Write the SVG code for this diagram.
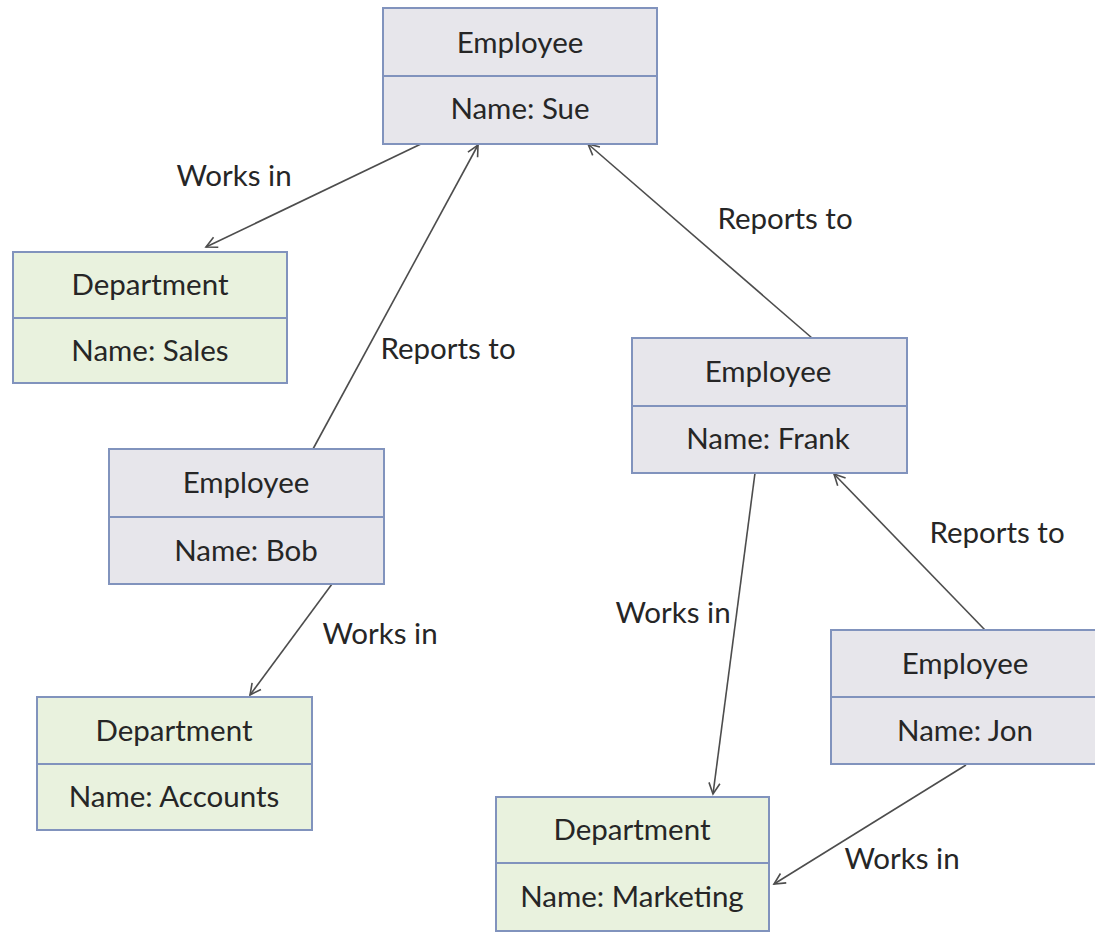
<svg xmlns="http://www.w3.org/2000/svg" width="1095" height="932" viewBox="0 0 1095 932">
<style>
.emp rect{fill:#e7e6eb;stroke:#8193bd;stroke-width:2}
.dep rect{fill:#e9f2de;stroke:#8193bd;stroke-width:2}
.div{stroke:#8193bd;stroke-width:2}
text{font-family:Lato,"Liberation Sans",sans-serif;font-size:29.5px;fill:#262626;text-anchor:middle}
.conn line{stroke:#4d4d4d;stroke-width:1.6;marker-end:url(#arr)}
</style>
<defs>
<marker id="arr" markerUnits="userSpaceOnUse" markerWidth="16" markerHeight="16" refX="12" refY="6" orient="auto" viewBox="0 0 16 12">
<path d="M1,0.5 L12,6 L1,11.5" fill="none" stroke="#4d4d4d" stroke-width="1.6"/>
</marker>
</defs>
<rect width="1095" height="932" fill="#ffffff"/>
<g class="conn" id="connectors">
<line x1="423" y1="143" x2="206" y2="247"/>
<line x1="313" y1="449" x2="478" y2="145"/>
<line x1="812" y1="338" x2="588" y2="144"/>
<line x1="332" y1="584" x2="250" y2="695"/>
<line x1="755" y1="473" x2="713" y2="794"/>
<line x1="985" y1="630" x2="834" y2="474"/>
<line x1="966" y1="765" x2="774" y2="884"/>
<text x="234" y="186">Works in</text>
<text x="448" y="359">Reports to</text>
<text x="785" y="229">Reports to</text>
<text x="380" y="644">Works in</text>
<text x="673" y="623">Works in</text>
<text x="997" y="543">Reports to</text>
<text x="902" y="869">Works in</text>
</g>
<g id="sue" class="emp">
<rect x="383" y="8" width="274" height="136"/>
<line class="div" x1="383" y1="76" x2="657" y2="76"/>
<text x="520" y="53">Employee</text>
<text x="520" y="119">Name: Sue</text>
</g>
<g id="sales" class="dep">
<rect x="13" y="252" width="274" height="131"/>
<line class="div" x1="13" y1="318" x2="287" y2="318"/>
<text x="150" y="295">Department</text>
<text x="150" y="361">Name: Sales</text>
</g>
<g id="bob" class="emp">
<rect x="109" y="449" width="275" height="135"/>
<line class="div" x1="109" y1="517" x2="384" y2="517"/>
<text x="246" y="493">Employee</text>
<text x="246" y="561">Name: Bob</text>
</g>
<g id="accounts" class="dep">
<rect x="37" y="697" width="275" height="133"/>
<line class="div" x1="37" y1="764" x2="312" y2="764"/>
<text x="174" y="741">Department</text>
<text x="174" y="807">Name: Accounts</text>
</g>
<g id="frank" class="emp">
<rect x="632" y="338" width="275" height="135"/>
<line class="div" x1="632" y1="406" x2="907" y2="406"/>
<text x="768" y="382">Employee</text>
<text x="768" y="449">Name: Frank</text>
</g>
<g id="jon" class="emp">
<rect x="831" y="630" width="272" height="134"/>
<line class="div" x1="831" y1="697" x2="1103" y2="697"/>
<text x="965" y="674">Employee</text>
<text x="965" y="741">Name: Jon</text>
</g>
<g id="marketing" class="dep">
<rect x="496" y="797" width="273" height="134"/>
<line class="div" x1="496" y1="863" x2="769" y2="863"/>
<text x="632" y="840">Department</text>
<text x="632" y="907">Name: Marketing</text>
</g>
</svg>
